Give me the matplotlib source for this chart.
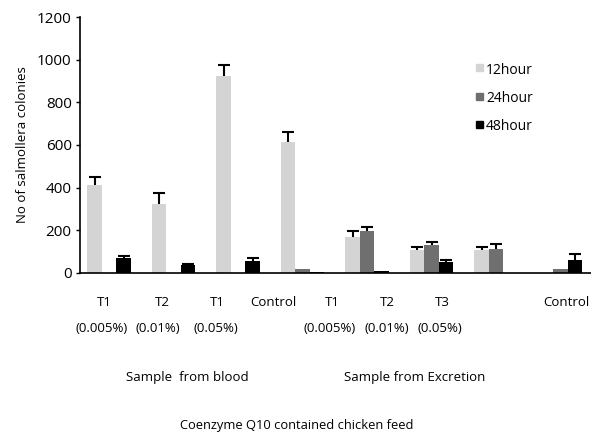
import matplotlib
matplotlib.use("Agg")
import matplotlib.pyplot as plt
import numpy as np
from matplotlib.patches import Rectangle

plt.rcParams["font.family"] = ["Open Sans", "DejaVu Sans"]

# data
groups = ["T1 (0.005%)", "T2 (0.01%)", "T1 (0.05%)", "Control",
          "T1 (0.005%)", "T2 (0.01%)", "T3 (0.05%)", "Control"]
series = ["12hour", "24hour", "48hour"]
h12 = [410, 325, 925, 615, 170, 107, 107, 0]
h24 = [0, 0, 0, 16, 197, 130, 110, 16]
h48 = [70, 37, 55, 3, 9, 49, 0, 60]
e12 = [38, 50, 50, 48, 24, 15, 13, 0]
e24 = [0, 0, 0, 0, 18, 15, 25, 0]
e48 = [10, 6, 12, 0, 0, 12, 0, 30]

row1 = ["T1", "T2", "T1", "Control", "T1", "T2", "T3", "Control"]
row2 = ["(0.005%)", "(0.01%)", "(0.05%)", "", "(0.005%)", "(0.01%)", "(0.05%)", ""]
section_labels = ["Sample  from blood", "Sample from Excretion"]
xlabel = "Coenzyme Q10 contained chicken feed"
ylabel = "No of salmollera colonies"

colors = ["#d4d4d4", "#6f6f6f", "#000000"]

W, H = 591, 433
fig = plt.figure(figsize=(W / 100, H / 100), dpi=100)
ax = fig.add_axes([80 / W, (H - 272.7) / H, 516 / W, 255.4 / H])

x = np.arange(len(groups))
bw = 0.225
for i, (vals, errs) in enumerate([(h12, e12), (h24, e24), (h48, e48)]):
    pos = x + (i - 1) * bw
    ax.bar(pos, vals, width=bw, color=colors[i], label=series[i], zorder=2)
    errs = np.array(errs)
    m = errs > 0
    eb = ax.errorbar(pos[m], np.array(vals)[m], yerr=[np.zeros(m.sum()), errs[m]],
                     fmt="none", ecolor="black", elinewidth=1.5, capsize=4,
                     capthick=1.5, zorder=3)
    eb[1][0].set_visible(False)  # only the upper cap, like the original

ax.set_xlim(-0.45, 7.55)
ax.set_ylim(0, 1200)
ax.set_yticks(range(0, 1201, 200))
ax.tick_params(axis="y", labelsize=11, length=3, width=1, direction="out", pad=3)
ax.set_xticks([])
for s in ["top", "right"]:
    ax.spines[s].set_visible(False)
ax.spines["left"].set_linewidth(1.2)
ax.spines["bottom"].set_linewidth(1.2)
ax.spines["bottom"].set_clip_on(False)
ax.set_ylabel(ylabel, fontsize=9.5, labelpad=6)

# category labels (hand placed as in the original figure)
row_x = [104, 162, 217, 273, 332, 387, 442, 566]
row2_x = [102, 158, 216, 0, 330, 387, 440, 0]
for t, px in zip(row1, row_x):
    fig.text(px / W, 1 - 303 / H, t, ha="center", va="center", fontsize=9.5)
for t, px in zip(row2, row2_x):
    if t:
        fig.text(px / W, 1 - 328 / H, t, ha="center", va="center", fontsize=9.5)
for t, px in zip(section_labels, [187, 415]):
    fig.text(px / W, 1 - 377 / H, t, ha="center", va="center", fontsize=9.5)
fig.text(297 / W, 1 - 426 / H, xlabel, ha="center", va="center", fontsize=9.3)

# legend drawn manually to match the loose layout
for i, (name, c) in enumerate(zip(series, colors)):
    yc = 70 + i * 28.5
    fig.patches.append(Rectangle((476 / W, 1 - (yc + 1) / H), 7 / W, 7 / H,
                                 transform=fig.transFigure, color=c))
    fig.text(486 / W, 1 - yc / H, name, ha="left", va="center", fontsize=10)

fig.savefig("out.png", dpi=100)
